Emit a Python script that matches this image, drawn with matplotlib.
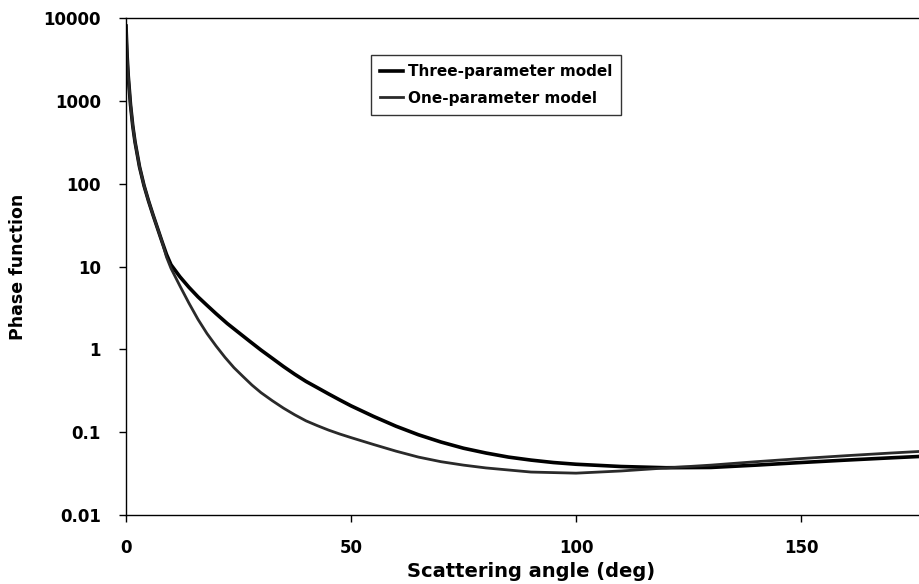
import matplotlib
matplotlib.use('Agg')
from matplotlib import pyplot as plt

# scattering angle (deg) and phase function values
angle_three = [0, 0.25, 0.5, 1, 1.5, 2, 3, 4, 5, 6, 7, 8, 9, 10, 12, 14, 16, 18, 20, 22.5,
               25, 27.5, 30, 32.5, 35, 37.5, 40, 42.5, 45, 47.5, 50, 55, 60, 65, 70, 75, 80,
               85, 90, 95, 100, 110, 120, 130, 140, 150, 160, 170, 180]
three_param = [8000, 3500, 2000, 900, 500, 320, 160, 95, 62, 42, 29, 20, 14, 10.5, 7.5, 5.6,
               4.3, 3.4, 2.7, 2.05, 1.6, 1.25, 0.98, 0.78, 0.62, 0.5, 0.41, 0.345, 0.29,
               0.245, 0.208, 0.155, 0.118, 0.093, 0.076, 0.064, 0.056, 0.05, 0.046, 0.043,
               0.041, 0.0385, 0.0372, 0.0375, 0.040, 0.043, 0.046, 0.049, 0.052]

angle_one = [0, 0.25, 0.5, 1, 1.5, 2, 3, 4, 5, 6, 7, 8, 9, 10, 12, 14, 16, 18, 20, 22, 24,
             26, 28, 30, 32.5, 35, 37.5, 40, 42.5, 45, 47.5, 50, 55, 60, 65, 70, 75, 80, 90,
             100, 110, 120, 130, 140, 150, 160, 170, 180]
one_param = [8000, 3500, 2000, 900, 500, 320, 160, 95, 62, 42, 29, 20, 13, 9.5, 5.8, 3.6,
             2.3, 1.55, 1.1, 0.8, 0.6, 0.47, 0.37, 0.3, 0.24, 0.195, 0.162, 0.137, 0.12,
             0.106, 0.095, 0.086, 0.071, 0.059, 0.05, 0.044, 0.040, 0.037, 0.033, 0.032,
             0.034, 0.037, 0.040, 0.044, 0.048, 0.052, 0.056, 0.060]

x_ticks = [0, 50, 100, 150]
y_ticks = [0.01, 0.1, 1, 10, 100, 1000, 10000]
y_tick_labels = ['0.01', '0.1', '1', '10', '100', '1000', '10000']

plt.rcParams['font.family'] = 'DejaVu Sans'
plt.rcParams['font.weight'] = 'bold'

fig = plt.figure(figsize=(9.19, 5.84), dpi=100)
# the original is cropped on the right, so the axes run past the figure edge
ax = fig.add_axes([126 / 919, 1 - 515 / 584, 810 / 919, 497 / 584])

ax.plot(angle_three, three_param, color='black', lw=2.6, label='Three-parameter model')
ax.plot(angle_one, one_param, color='#2a2a2a', lw=2.0, label='One-parameter model')

ax.set_yscale('log')
ax.set_xlim(0, 180)
ax.set_ylim(0.01, 10000)
ax.set_xticks(x_ticks)
ax.set_yticks(y_ticks)
ax.set_yticklabels(y_tick_labels)
ax.minorticks_off()
ax.tick_params(direction='out', length=5, width=1, labelsize=12)
ax.tick_params(axis='x', pad=12)
ax.tick_params(axis='y', pad=13)
for s in ax.spines.values():
    s.set_linewidth(1)

ax.set_xlabel('Scattering angle (deg)', fontsize=14, fontweight='bold', labelpad=4)
ax.set_ylabel('Phase function', fontsize=12.5, fontweight='bold', labelpad=12)

leg = ax.legend(loc='upper left', bbox_to_anchor=(245 / 810, 1 - 37 / 497), fontsize=11,
                frameon=True, fancybox=False, edgecolor='black', handlelength=1.5,
                handletextpad=0.3, borderpad=0.6, labelspacing=0.75, borderaxespad=0)
leg.get_frame().set_linewidth(1)

fig.savefig('out.png', dpi=100)
